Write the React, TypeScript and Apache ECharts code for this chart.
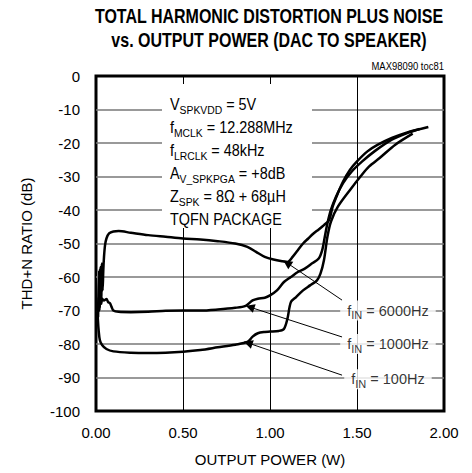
import React, { useEffect, useRef } from 'react';
import * as echarts from 'echarts';

const FONT = '"Liberation Sans", Arial, sans-serif';

const titleLines = ['TOTAL HARMONIC DISTORTION PLUS NOISE', 'vs. OUTPUT POWER (DAC TO SPEAKER)'];
const xName = 'OUTPUT POWER (W)';
const yName = 'THD+N RATIO (dB)';
const docId = 'MAX98090 toc81';

const f6000: number[][] = [
  [0.012, -72], [0.018, -58], [0.022, -69], [0.026, -57], [0.030, -67], [0.034, -56], [0.038, -64],
  [0.042, -58], [0.046, -54], [0.052, -50.5], [0.06, -48.5], [0.075, -47], [0.1, -46.4], [0.13, -46.3],
  [0.2, -46.8], [0.3, -47.5], [0.4, -48], [0.5, -48.5], [0.6, -48.8], [0.7, -49.3], [0.8, -50],
  [0.87, -51], [0.92, -52.5], [0.97, -54], [1.02, -54.8], [1.07, -55.3], [1.1, -55.5], [1.13, -54],
  [1.16, -52], [1.19, -50], [1.22, -48.5], [1.25, -47], [1.28, -45.8], [1.31, -44.5], [1.34, -43],
  [1.36, -39], [1.39, -35], [1.42, -31.5], [1.46, -28], [1.5, -25.5], [1.56, -22.5], [1.62, -20.5],
  [1.7, -18.5], [1.78, -17], [1.85, -16], [1.91, -15.2],
];

const f1000: number[][] = [
  [0.008, -73], [0.015, -66], [0.02, -70], [0.025, -64], [0.03, -68], [0.036, -66.5], [0.045, -67],
  [0.06, -66.6], [0.07, -67.5], [0.08, -67.8], [0.09, -69], [0.1, -70], [0.13, -70.4], [0.2, -70.5],
  [0.3, -70.4], [0.4, -70.1], [0.5, -70], [0.6, -70], [0.7, -69.7], [0.8, -69.2], [0.86, -68.6],
  [0.9, -67], [0.93, -66.5], [0.97, -66.2], [1.0, -65.5], [1.04, -64], [1.08, -61.5], [1.12, -60],
  [1.16, -58.5], [1.2, -57.5], [1.24, -56], [1.28, -54.5], [1.3, -52], [1.315, -48], [1.33, -44],
  [1.35, -40], [1.38, -36], [1.42, -32], [1.47, -28.5], [1.53, -25.5], [1.6, -22.5], [1.7, -19],
  [1.8, -16.8], [1.86, -15.8],
];

const f100: number[][] = [
  [0.005, -68], [0.01, -72], [0.015, -75.8], [0.022, -78.8], [0.035, -80.3], [0.06, -81.5],
  [0.1, -82.2], [0.2, -82.6], [0.3, -82.7], [0.4, -82.6], [0.5, -82.3], [0.6, -81.8], [0.7, -81],
  [0.8, -80.2], [0.87, -79.4], [0.9, -77.8], [0.93, -76.8], [0.97, -76.4], [1.0, -76.3], [1.05, -76.1],
  [1.08, -75.5], [1.1, -72.5], [1.12, -67.5], [1.15, -66], [1.19, -64], [1.23, -62.5], [1.27, -61],
  [1.29, -59], [1.31, -55], [1.33, -48], [1.35, -43.5], [1.39, -39], [1.46, -34], [1.52, -30],
  [1.57, -27], [1.63, -24.5], [1.72, -20.5], [1.82, -17.2],
];

const seriesNames = ['6000Hz', '1000Hz', '100Hz'];
const labelPos = [[1.678, -70], [1.678, -80], [1.678, -90.5]];
const arrowFrom = [[1.414, -66.9], [1.414, -77.9], [1.414, -89.3]];
const arrowTo = [[1.098, -55.8], [0.885, -69], [0.874, -79.7]];

const condLines = [
  '{m|V}{s|SPKVDD}{m| = 5V}',
  '{m|f}{s|MCLK}{m| = 12.288MHz}',
  '{m|f}{s|LRCLK}{m| = 48kHz}',
  '{m|A}{s|V_SPKPGA}{m| = +8dB}',
  '{m|Z}{s|SPK}{m| = 8Ω + 68µH}',
  '{m|TQFN PACKAGE}',
];

const rich = {
  m: { fontSize: 16, lineHeight: 23, fontFamily: FONT, color: '#000', verticalAlign: 'middle' },
  s: { fontSize: 11.5, lineHeight: 12, fontFamily: FONT, color: '#000', verticalAlign: 'bottom' },
};

export default function App() {
  const ref = useRef<HTMLDivElement>(null);
  useEffect(() => {
    document.body.style.margin = '0';
    const chart = echarts.init(ref.current!, null, { renderer: 'svg' });
    const curveSeries = [f6000, f1000, f100].map((d, i) => ({
      name: seriesNames[i],
      type: 'line',
      data: d,
      showSymbol: false,
      smooth: 0.3,
      lineStyle: { color: '#000', width: 2.5 },
      z: 3,
    }));
    chart.setOption({
      animation: false,
      grid: { left: 96, right: 28, top: 76, bottom: 62, show: true, borderColor: '#000', borderWidth: 3, backgroundColor: 'transparent' },
      xAxis: {
        type: 'value', min: 0, max: 2, interval: 0.5,
        axisLine: { show: false }, axisTick: { show: false },
        splitLine: { show: true, showMinLine: false, showMaxLine: false, lineStyle: { color: '#000', width: 1 } },
        axisLabel: { formatter: (v: number) => v.toFixed(2), fontSize: 15, margin: 14, color: '#000', fontFamily: FONT },
        name: xName, nameLocation: 'middle', nameGap: 41,
        nameTextStyle: { fontSize: 15, color: '#000', fontFamily: FONT },
      },
      yAxis: {
        type: 'value', min: -100, max: 0, interval: 10,
        axisLine: { show: false }, axisTick: { show: false },
        splitLine: { show: true, showMinLine: false, showMaxLine: false, lineStyle: { color: '#777', width: 1.5 } },
        axisLabel: { fontSize: 15, margin: 16, color: '#000', fontFamily: FONT },
        name: yName, nameLocation: 'middle', nameGap: 62,
        nameTextStyle: { fontSize: 15, color: '#000', fontFamily: FONT },
      },
      graphic: [
        { type: 'rect', shape: { x: 162, y: 84, width: 150, height: 144 }, style: { fill: '#fff' }, z: 1 },
        {
          type: 'text', x: 170, y: 92.5, z: 5, scaleX: 0.9,
          style: { text: condLines.join('\n'), rich, fill: '#000', font: `16px ${FONT}`, lineHeight: 23 },
        },
        {
          type: 'text', x: 269, y: 4, z: 5, scaleX: 0.8,
          style: {
            text: titleLines.join('\n'), fill: '#000', fontSize: 20, fontWeight: 'bold',
            fontFamily: FONT, lineHeight: 24, align: 'center', verticalAlign: 'top',
          },
        },
        {
          type: 'text', x: 444, y: 66, z: 5, scaleX: 0.86,
          style: { text: docId, fill: '#000', fontSize: 11, fontFamily: FONT, align: 'right', verticalAlign: 'middle' },
        },
      ],
      series: [
        ...curveSeries,
        {
          type: 'scatter',
          symbolSize: 1,
          itemStyle: { color: 'transparent' },
          z: 4,
          data: labelPos.map((p, i) => ({
            value: p,
            label: { formatter: `{m|f}{s|IN}{m| = ${seriesNames[i]}}` },
          })),
          label: {
            show: true, position: 'inside', backgroundColor: '#fff', padding: [0, 7],
            rich: {
              m: { fontSize: 14.5, lineHeight: 20, fontFamily: FONT, color: '#000', verticalAlign: 'middle' },
              s: { fontSize: 11, lineHeight: 11, fontFamily: FONT, color: '#000', verticalAlign: 'bottom' },
            },
          },
          markLine: {
            silent: true,
            symbol: ['none', 'triangle'],
            symbolSize: 9,
            lineStyle: { color: '#000', width: 1, type: 'solid' },
            label: { show: false },
            data: arrowFrom.map((p, i) => [{ coord: p }, { coord: arrowTo[i] }]),
          },
        },
      ],
    });
    return () => chart.dispose();
  }, []);
  return <div ref={ref} style={{ width: 472, height: 473 }} />;
}
